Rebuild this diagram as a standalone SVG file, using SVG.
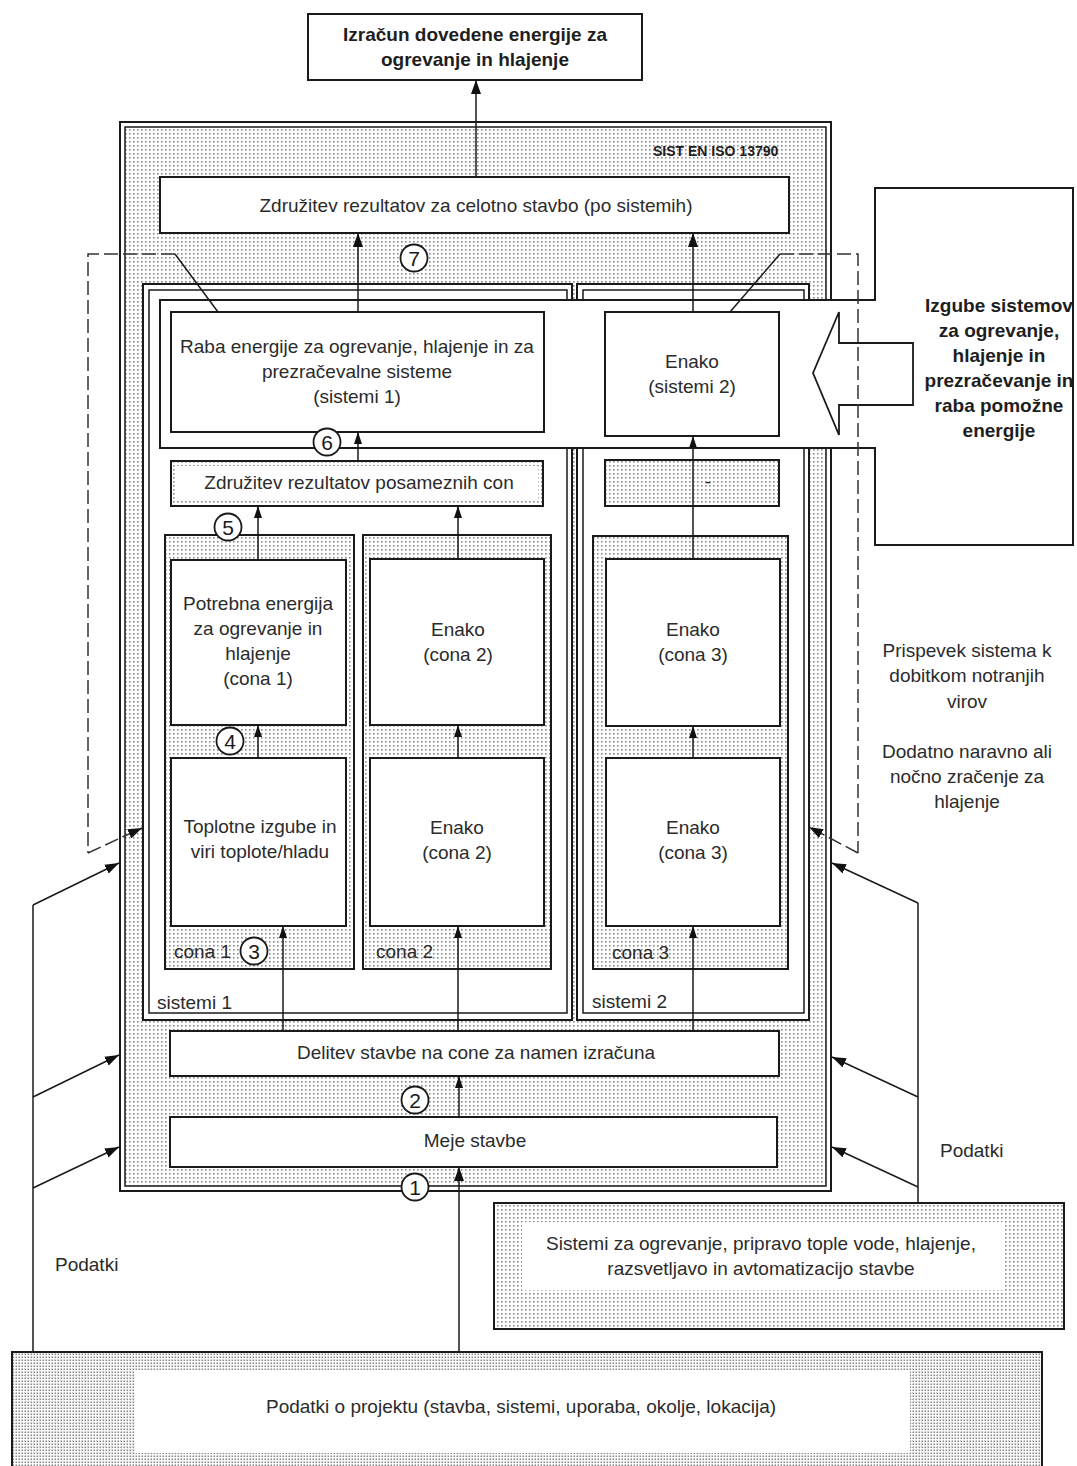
<svg xmlns="http://www.w3.org/2000/svg" width="1077" height="1466" viewBox="0 0 1077 1466">
<defs>
<pattern id="dots" width="4" height="4" patternUnits="userSpaceOnUse"><rect width="4" height="4" fill="#fff"/><rect x="1" y="1" width="1.6" height="1.6" fill="#8a8a8a"/></pattern>
<pattern id="dense" width="3" height="3" patternUnits="userSpaceOnUse"><rect width="3" height="3" fill="#fff"/><rect x="0.5" y="0.5" width="1.6" height="1.6" fill="#8a8a8a"/></pattern>
<marker id="ah" viewBox="0 0 14 10" refX="14" refY="5" markerWidth="14" markerHeight="10" markerUnits="userSpaceOnUse" orient="auto"><path d="M0,0 L14,5 L0,10 z" fill="#111"/></marker>
<marker id="ahs" viewBox="0 0 12 8" refX="12" refY="4" markerWidth="12" markerHeight="8" markerUnits="userSpaceOnUse" orient="auto"><path d="M0,0 L12,4 L0,8 z" fill="#111"/></marker>
</defs>
<style>
.b{fill:#fff;stroke:#1a1a1a;stroke-width:2}
.s{fill:url(#dots);stroke:#1a1a1a;stroke-width:2}
.t{font-family:"Liberation Sans",Arial,sans-serif;font-size:19px;fill:#2b2b2b;text-anchor:middle}
.tl{font-family:"Liberation Sans",Arial,sans-serif;font-size:19px;fill:#2b2b2b}
.bd{font-family:"Liberation Sans",Arial,sans-serif;font-size:19px;font-weight:bold;fill:#1e1e1e;text-anchor:middle}
.c{fill:#fff;stroke:#1a1a1a;stroke-width:1.8}
.n{font-family:"Liberation Sans",Arial,sans-serif;font-size:21px;fill:#1a1a1a;text-anchor:middle}
.ln{fill:none;stroke:#1a1a1a;stroke-width:1.5}
.ds{fill:none;stroke:#333;stroke-width:1.5;stroke-dasharray:14 5}
</style>

<g id="title">
<rect class="b" x="308" y="14" width="334" height="66"/>
<text class="bd" x="475" y="41">Izračun dovedene energije za</text>
<text class="bd" x="475" y="66">ogrevanje in hlajenje</text>
</g>

<g id="frame">
<rect x="120" y="122" width="711" height="1069" fill="#fff" stroke="#1a1a1a" stroke-width="2"/>
<rect x="125" y="127" width="701" height="1059" fill="url(#dots)" stroke="#1a1a1a" stroke-width="1.5"/>
<text x="653" y="156" font-family="Liberation Sans, Arial, sans-serif" font-size="14" font-weight="bold" fill="#1e1e1e">SIST EN ISO 13790</text>
</g>

<g id="zdruzitev-stavba">
<rect class="b" x="160" y="177" width="629" height="56"/>
<text class="t" x="476" y="212">Združitev rezultatov za celotno stavbo (po sistemih)</text>
</g>

<g id="sistemi1">
<rect x="143" y="284" width="429" height="736" fill="#fff" stroke="#1a1a1a" stroke-width="2"/>
<rect x="149" y="290" width="418" height="723" fill="#fff" stroke="#1a1a1a" stroke-width="1.5"/>
<text class="tl" x="157" y="1009">sistemi 1</text>
</g>

<g id="sistemi2">
<rect x="577" y="284" width="232" height="736" fill="#fff" stroke="#1a1a1a" stroke-width="2"/>
<rect x="583" y="290" width="221" height="723" fill="#fff" stroke="#1a1a1a" stroke-width="1.5"/>
<text class="tl" x="592" y="1008">sistemi 2</text>
</g>

<g id="zdruzitev-con">
<rect class="s" x="171" y="461" width="372" height="45"/>
<rect x="176" y="466" width="362" height="35" fill="#fff"/>
<text class="t" x="359" y="489">Združitev rezultatov posameznih con</text>
</g>

<g id="prazno-sistemi2">
<rect class="s" x="605" y="460" width="174" height="46"/>
<text class="t" x="708" y="488">-</text>
</g>

<g id="cona1">
<rect class="s" x="165" y="535" width="189" height="434"/>
<text class="tl" x="174" y="958">cona 1</text>
</g>
<g id="cona2">
<rect class="s" x="363" y="535" width="188" height="434"/>
<text class="tl" x="376" y="958">cona 2</text>
</g>
<g id="cona3">
<rect class="s" x="593" y="536" width="195" height="433"/>
<text class="tl" x="612" y="959">cona 3</text>
</g>

<g id="potrebna-cona1">
<rect class="b" x="171" y="560" width="175" height="165"/>
<text class="t" x="258" y="610">Potrebna energija</text>
<text class="t" x="258" y="635">za ogrevanje in</text>
<text class="t" x="258" y="660">hlajenje</text>
<text class="t" x="258" y="685">(cona 1)</text>
</g>
<g id="toplotne-cona1">
<rect class="b" x="171" y="758" width="175" height="168"/>
<text class="t" x="260" y="833">Toplotne izgube in</text>
<text class="t" x="260" y="858">viri toplote/hladu</text>
</g>
<g id="enako-cona2-zg">
<rect class="b" x="370" y="559" width="174" height="166"/>
<text class="t" x="458" y="636">Enako</text>
<text class="t" x="458" y="661">(cona 2)</text>
</g>
<g id="enako-cona2-sp">
<rect class="b" x="370" y="758" width="174" height="168"/>
<text class="t" x="457" y="834">Enako</text>
<text class="t" x="457" y="859">(cona 2)</text>
</g>
<g id="enako-cona3-zg">
<rect class="b" x="606" y="559" width="174" height="167"/>
<text class="t" x="693" y="636">Enako</text>
<text class="t" x="693" y="661">(cona 3)</text>
</g>
<g id="enako-cona3-sp">
<rect class="b" x="606" y="758" width="174" height="168"/>
<text class="t" x="693" y="834">Enako</text>
<text class="t" x="693" y="859">(cona 3)</text>
</g>

<g id="delitev">
<rect class="b" x="170" y="1031" width="609" height="45"/>
<text class="t" x="476" y="1059">Delitev stavbe na cone za namen izračuna</text>
</g>
<g id="meje">
<rect class="b" x="170" y="1117" width="607" height="50"/>
<text class="t" x="475" y="1147">Meje stavbe</text>
</g>

<g id="izgube">
<path d="M875 188 H1073 V545 H875 V448 H160 V300 H875 Z" fill="#fff" stroke="#1a1a1a" stroke-width="2"/>
<polygon points="813,373 839,312 839,343 913,343 913,405 839,405 839,435" fill="#fff" stroke="#1a1a1a" stroke-width="1.8"/>
<text class="bd" x="999" y="312">Izgube sistemov</text>
<text class="bd" x="999" y="337">za ogrevanje,</text>
<text class="bd" x="999" y="362">hlajenje in</text>
<text class="bd" x="999" y="387">prezračevanje in</text>
<text class="bd" x="999" y="412">raba pomožne</text>
<text class="bd" x="999" y="437">energije</text>
</g>

<g id="raba-sistemi1">
<rect class="b" x="171" y="312" width="373" height="120"/>
<text class="t" x="357" y="353">Raba energije za ogrevanje, hlajenje in za</text>
<text class="t" x="357" y="378">prezračevalne sisteme</text>
<text class="t" x="357" y="403">(sistemi 1)</text>
</g>
<g id="enako-sistemi2">
<rect class="b" x="605" y="312" width="174" height="124"/>
<text class="t" x="692" y="368">Enako</text>
<text class="t" x="692" y="393">(sistemi 2)</text>
</g>

<g id="sistemi-vir">
<rect class="s" x="494" y="1203" width="570" height="126"/>
<rect x="522" y="1222" width="483" height="68" fill="#fff"/>
<text class="t" x="761" y="1250">Sistemi za ogrevanje, pripravo tople vode, hlajenje,</text>
<text class="t" x="761" y="1275">razsvetljavo in avtomatizacijo stavbe</text>
</g>

<g id="podatki-projekt">
<rect x="12" y="1352" width="1030" height="120" fill="url(#dense)" stroke="#1a1a1a" stroke-width="2"/>
<rect x="135" y="1370" width="775" height="83" fill="#fff"/>
<text class="t" x="521" y="1413">Podatki o projektu (stavba, sistemi, uporaba, okolje, lokacija)</text>
</g>

<g id="labels">
<text class="t" x="967" y="657">Prispevek sistema k</text>
<text class="t" x="967" y="682">dobitkom notranjih</text>
<text class="t" x="967" y="708">virov</text>
<text class="t" x="967" y="758">Dodatno naravno ali</text>
<text class="t" x="967" y="783">nočno zračenje za</text>
<text class="t" x="967" y="808">hlajenje</text>
<text class="tl" x="55" y="1271">Podatki</text>
<text class="tl" x="940" y="1157">Podatki</text>
</g>

<g id="connectors">
<line class="ln" x1="476" y1="177" x2="476" y2="80" marker-end="url(#ah)"/>
<line class="ln" x1="358" y1="312" x2="358" y2="233" marker-end="url(#ah)"/>
<line class="ln" x1="693" y1="312" x2="693" y2="233" marker-end="url(#ah)"/>
<line class="ln" x1="358" y1="461" x2="358" y2="432" marker-end="url(#ahs)"/>
<line class="ln" x1="693" y1="559" x2="693" y2="436" marker-end="url(#ahs)"/>
<line class="ln" x1="258" y1="560" x2="258" y2="506" marker-end="url(#ahs)"/>
<line class="ln" x1="458" y1="559" x2="458" y2="506" marker-end="url(#ahs)"/>
<line class="ln" x1="258" y1="758" x2="258" y2="725" marker-end="url(#ahs)"/>
<line class="ln" x1="458" y1="758" x2="458" y2="725" marker-end="url(#ahs)"/>
<line class="ln" x1="693" y1="758" x2="693" y2="726" marker-end="url(#ahs)"/>
<line class="ln" x1="283" y1="1031" x2="283" y2="926" marker-end="url(#ahs)"/>
<line class="ln" x1="458" y1="1031" x2="458" y2="926" marker-end="url(#ahs)"/>
<line class="ln" x1="693" y1="1031" x2="693" y2="926" marker-end="url(#ahs)"/>
<line class="ln" x1="459" y1="1117" x2="459" y2="1076" marker-end="url(#ahs)"/>
<line class="ln" x1="459" y1="1352" x2="459" y2="1167" marker-end="url(#ah)"/>
<line class="ln" x1="33" y1="1352" x2="33" y2="905"/>
<line class="ln" x1="33" y1="905" x2="119" y2="863" marker-end="url(#ah)"/>
<line class="ln" x1="33" y1="1097" x2="119" y2="1055" marker-end="url(#ah)"/>
<line class="ln" x1="33" y1="1188" x2="119" y2="1147" marker-end="url(#ah)"/>
<line class="ln" x1="918" y1="1203" x2="918" y2="903"/>
<line class="ln" x1="918" y1="903" x2="832" y2="863" marker-end="url(#ah)"/>
<line class="ln" x1="918" y1="1097" x2="832" y2="1057" marker-end="url(#ah)"/>
<line class="ln" x1="918" y1="1187" x2="832" y2="1147" marker-end="url(#ah)"/>
<polyline class="ds" points="175,254 88,254 88,853"/>
<line class="ds" x1="88" y1="853" x2="142" y2="828" marker-end="url(#ah)"/>
<line class="ln" x1="175" y1="254" x2="218" y2="312"/>
<polyline class="ds" points="780,254 858,254 858,853"/>
<line class="ds" x1="858" y1="853" x2="809" y2="827" marker-end="url(#ah)"/>
<line class="ln" x1="780" y1="254" x2="730" y2="312"/>
</g>

<g id="steps">
<circle class="c" cx="414" cy="258" r="13.5"/><text class="n" x="414" y="265.5">7</text>
<circle class="c" cx="327" cy="442" r="13.5"/><text class="n" x="327" y="449.5">6</text>
<circle class="c" cx="228" cy="527" r="13.5"/><text class="n" x="228" y="534.5">5</text>
<circle class="c" cx="230" cy="741" r="13.5"/><text class="n" x="230" y="748.5">4</text>
<circle class="c" cx="254" cy="951" r="13.5"/><text class="n" x="254" y="958.5">3</text>
<circle class="c" cx="415" cy="1100" r="13.5"/><text class="n" x="415" y="1107.5">2</text>
<circle class="c" cx="415" cy="1187" r="13.5"/><text class="n" x="415" y="1194.5">1</text>
</g>
</svg>
